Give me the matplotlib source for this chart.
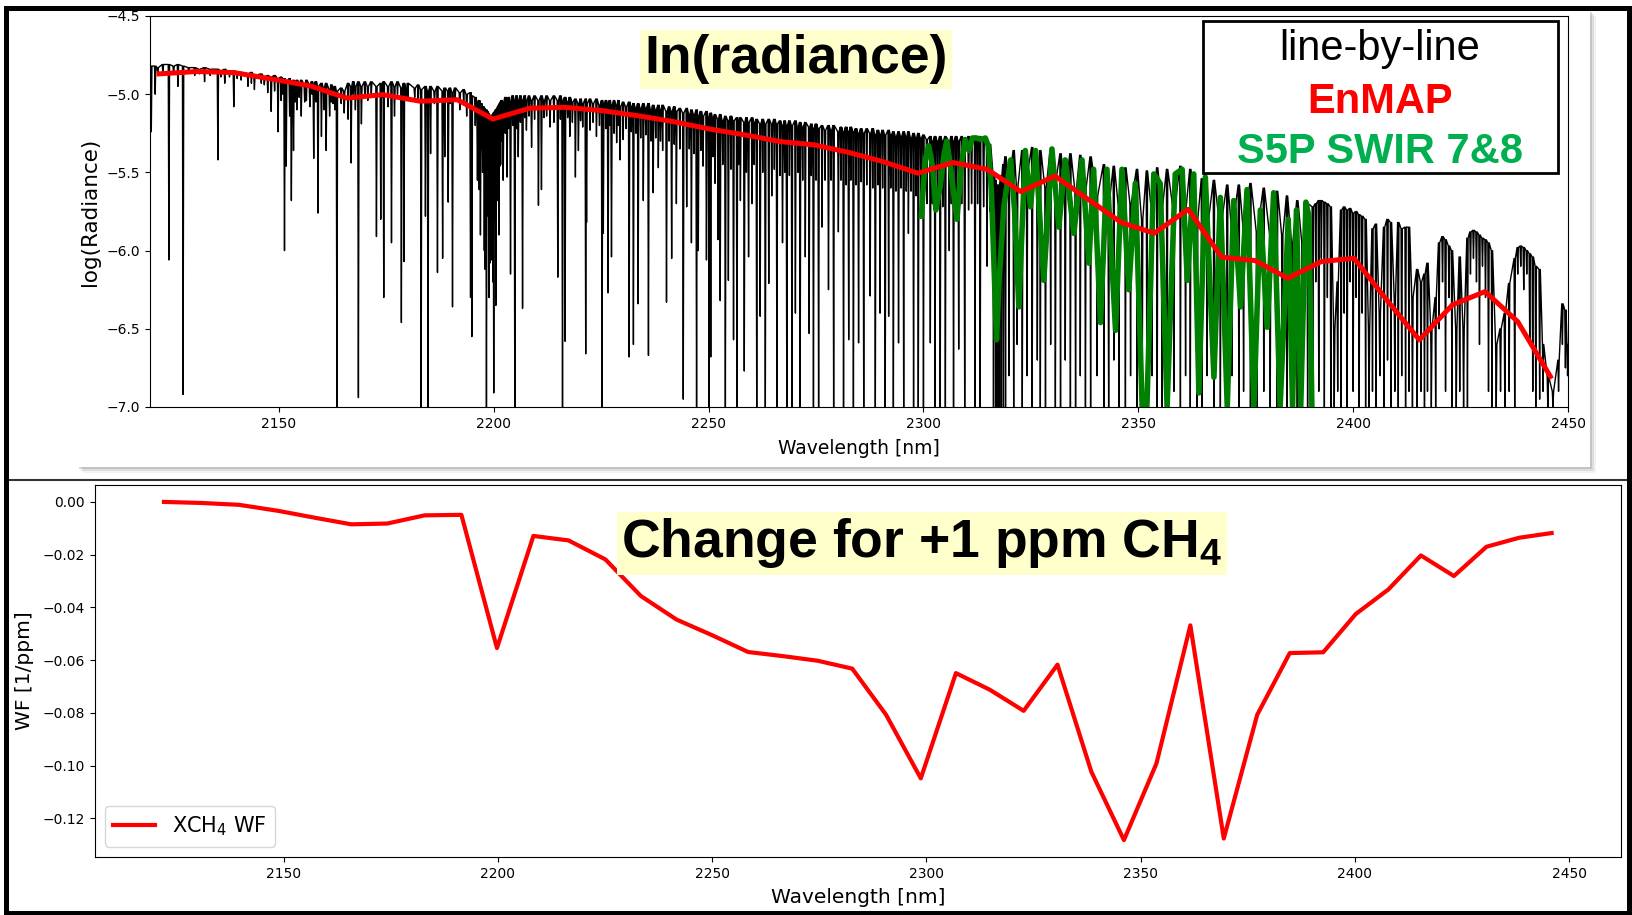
import numpy as np
import matplotlib
matplotlib.use("Agg")
import matplotlib.pyplot as plt
from matplotlib.patches import Rectangle
from matplotlib.lines import Line2D

plt.rcParams['font.family'] = ['DejaVu Sans']
plt.rcParams['mathtext.default'] = 'regular'

# EnMAP band centres [nm], used for both panels
enmap_wl = [2122.1, 2130.8, 2139.6, 2148.8, 2157.3, 2165.8, 2174.2, 2182.9, 2191.5, 2199.8,
            2208.3, 2216.5, 2225.1, 2233.4, 2241.7, 2250.1, 2258.4, 2266.7, 2274.6, 2282.7,
            2290.6, 2298.7, 2306.9, 2314.8, 2322.7, 2330.6, 2338.5, 2346.1, 2353.7, 2361.6,
            2369.4, 2377.2, 2384.8, 2392.6, 2400.2, 2407.8, 2415.4, 2423.1, 2430.7, 2438.3, 2445.9]
# ln(radiance) at EnMAP resolution
enmap_lnrad = [-4.870, -4.855, -4.862, -4.905, -4.947, -5.025, -5.003, -5.045, -5.035, -5.159,
               -5.090, -5.084, -5.105, -5.137, -5.175, -5.222, -5.260, -5.303, -5.324, -5.373,
               -5.431, -5.505, -5.437, -5.480, -5.623, -5.523, -5.676, -5.821, -5.889, -5.736,
               -6.042, -6.064, -6.177, -6.070, -6.049, -6.315, -6.571, -6.347, -6.262, -6.454, -6.805]
# XCH4 weighting function [1/ppm]
xch4_wf = [0.000, -0.0004, -0.0011, -0.0034, -0.0060, -0.0085, -0.0082, -0.0051, -0.0049, -0.0554,
           -0.0129, -0.0146, -0.0218, -0.0357, -0.0446, -0.0506, -0.0569, -0.0585, -0.0602, -0.0632,
           -0.0807, -0.1048, -0.0649, -0.0712, -0.0792, -0.0617, -0.1023, -0.1282, -0.0991, -0.0468,
           -0.1276, -0.0807, -0.0573, -0.0570, -0.0425, -0.0332, -0.0203, -0.0281, -0.0170, -0.0136, -0.0118]

# S5P SWIR band 7&8 spectrum
s5p_wl = [2299.5, 2300.4, 2301.2, 2302.1, 2302.9, 2303.9, 2304.7, 2305.4, 2306.2, 2307.0,
          2307.8, 2308.8, 2309.7, 2310.6, 2311.4, 2312.4, 2313.4, 2314.4, 2315.1, 2315.8,
          2316.3, 2317.0, 2317.6, 2318.7, 2320.3, 2321.2, 2322.2, 2323.7, 2324.9, 2326.1,
          2328.0, 2329.9, 2331.5, 2333.0, 2335.0, 2336.9, 2338.5, 2339.6, 2341.2, 2342.7,
          2344.7, 2346.2, 2347.8, 2349.3, 2350.9, 2352.0, 2353.6, 2355.1, 2356.7, 2358.6,
          2360.2, 2361.4, 2362.9, 2364.1, 2365.6, 2367.6, 2369.1, 2370.7, 2372.2, 2373.8,
          2375.3, 2376.9, 2378.4, 2380.0, 2381.5, 2383.0, 2384.9, 2385.9, 2386.8, 2387.8,
          2389.0, 2389.7, 2390.4]
s5p_lnrad = [-5.78, -5.42, -5.33, -5.46, -5.74, -5.59, -5.40, -5.30, -5.44, -5.63,
             -5.80, -5.46, -5.29, -5.36, -5.28, -5.28, -5.29, -5.28, -5.33, -5.61,
             -6.00, -6.57, -6.20, -5.72, -5.42, -5.74, -6.36, -5.36, -5.72, -5.36,
             -6.19, -5.35, -5.85, -5.42, -5.89, -5.42, -6.08, -5.48, -6.46, -5.48,
             -6.51, -5.48, -6.25, -5.57, -7.00, -7.00, -5.51, -5.57, -7.00, -5.51,
             -5.48, -6.19, -5.51, -6.91, -5.53, -6.81, -5.66, -7.00, -5.68, -6.36,
             -5.61, -7.00, -5.74, -6.49, -5.63, -7.00, -5.80, -7.00, -5.74, -7.00,
             -5.69, -5.78, -7.00]

# line-by-line spectrum: absorption lines as (centre nm, continuum, line bottom)
lbl_lines = [
    (2120.3, -4.82, -5.24), (2121.2, -4.82, -5.00), (2121.8, -4.83, -4.87), (2123.0, -4.81, -4.86),
    (2124.4, -4.81, -6.06), (2125.5, -4.82, -4.87), (2126.5, -4.81, -4.95), (2127.7, -4.82, -6.92),
    (2129.0, -4.83, -4.86), (2130.4, -4.83, -4.88), (2131.5, -4.84, -4.87), (2132.7, -4.83, -4.92),
    (2134.0, -4.84, -4.88), (2135.8, -4.84, -5.42), (2136.5, -4.85, -4.89), (2137.4, -4.84, -4.93),
    (2138.5, -4.86, -4.89), (2139.5, -4.85, -5.08), (2140.3, -4.86, -4.90), (2141.2, -4.86, -4.91),
    (2142.8, -4.87, -4.95), (2143.6, -4.86, -4.93), (2144.3, -4.88, -4.97), (2145.9, -4.87, -4.93),
    (2146.6, -4.89, -4.94), (2147.4, -4.88, -4.99), (2148.2, -4.89, -5.11), (2149.0, -4.88, -4.98),
    (2149.8, -4.90, -5.24), (2150.5, -4.89, -5.04), (2150.9, -4.91, -5.00), (2151.3, -4.90, -6.00),
    (2151.7, -4.92, -5.46), (2152.5, -4.90, -5.14), (2152.9, -4.93, -5.68), (2153.4, -4.91, -5.36),
    (2153.8, -4.93, -5.05), (2154.2, -4.91, -5.10), (2154.7, -4.93, -5.02), (2155.2, -4.91, -5.14),
    (2156.0, -4.94, -5.05), (2156.4, -4.91, -5.04), (2157.2, -4.94, -5.08), (2157.7, -4.92, -5.00),
    (2158.1, -4.95, -5.41), (2158.6, -4.92, -5.05), (2159.1, -4.95, -5.76), (2159.9, -4.93, -5.27),
    (2160.5, -4.96, -5.10), (2161.0, -4.93, -5.36), (2161.8, -4.97, -5.14), (2162.2, -4.94, -5.05),
    (2162.6, -4.97, -5.06), (2163.0, -4.95, -5.10), (2163.5, -4.98, -7.00), (2164.5, -4.96, -5.06),
    (2165.2, -4.98, -5.12), (2166.1, -4.93, -5.16), (2166.8, -4.95, -5.44), (2167.3, -4.92, -5.00),
    (2167.8, -4.95, -5.10), (2168.5, -4.92, -6.94), (2169.2, -4.95, -5.19), (2170.0, -4.92, -5.02),
    (2170.7, -4.95, -5.04), (2171.5, -4.92, -5.00), (2172.7, -4.95, -5.91), (2173.7, -4.93, -5.80),
    (2174.0, -4.95, -5.02), (2174.4, -4.92, -6.30), (2175.4, -4.95, -5.08), (2176.2, -4.92, -5.95),
    (2176.9, -4.95, -5.14), (2177.6, -4.92, -5.00), (2178.5, -4.96, -6.46), (2179.1, -4.93, -6.07),
    (2179.6, -4.96, -5.02), (2180.0, -4.93, -5.04), (2181.6, -4.96, -5.02), (2182.4, -4.94, -5.05),
    (2183.1, -4.97, -7.00), (2184.1, -4.95, -5.78), (2184.7, -4.98, -7.00), (2185.3, -4.95, -5.38),
    (2186.2, -4.98, -5.06), (2186.9, -4.95, -6.14), (2188.1, -4.98, -6.05), (2188.6, -4.96, -5.40),
    (2189.4, -4.98, -5.69), (2189.8, -4.96, -5.06), (2190.4, -4.99, -6.36), (2191.0, -4.96, -5.04),
    (2192.1, -4.99, -5.10), (2193.0, -4.97, -5.05), (2193.7, -5.00, -5.14),
    (2194.6, -4.99, -6.30), (2194.9, -5.01, -6.55), (2195.7, -5.02, -5.20), (2196.2, -5.05, -5.55),
    (2196.6, -5.04, -5.61), (2196.9, -5.07, -5.90), (2197.1, -5.06, -5.35), (2197.4, -5.08, -5.50),
    (2197.6, -5.08, -5.36), (2197.8, -5.09, -6.00), (2198.0, -5.10, -6.12), (2198.3, -5.10, -7.00),
    (2198.5, -5.11, -5.60), (2198.7, -5.12, -5.78), (2198.9, -5.13, -6.30), (2199.1, -5.14, -6.08),
    (2199.3, -5.14, -5.70), (2199.5, -5.14, -6.06), (2199.8, -5.13, -6.20), (2200.0, -5.12, -6.91),
    (2200.3, -5.11, -5.80), (2200.5, -5.10, -6.35), (2200.8, -5.09, -5.60), (2201.0, -5.08, -5.68),
    (2201.2, -5.07, -5.90), (2201.4, -5.06, -5.46), (2201.6, -5.05, -5.45), (2201.8, -5.04, -5.30),
    (2202.2, -5.05, -5.55), (2202.7, -5.02, -5.25), (2203.1, -5.05, -5.53), (2203.5, -5.02, -5.22),
    (2203.9, -5.05, -6.15), (2204.4, -5.01, -5.20), (2204.9, -5.04, -7.00), (2205.3, -5.01, -5.22),
    (2205.7, -5.04, -5.40), (2206.2, -5.01, -5.18), (2206.7, -5.04, -6.37), (2207.2, -5.01, -5.15),
    (2207.6, -5.04, -5.23), (2208.2, -5.01, -5.14), (2208.8, -5.04, -5.34), (2209.5, -5.01, -5.16),
    (2210.4, -5.04, -5.71), (2211.1, -5.01, -5.61), (2211.7, -5.04, -5.15), (2212.3, -5.01, -5.14),
    (2213.1, -5.04, -5.21), (2214.0, -5.01, -5.18), (2214.9, -5.04, -6.17), (2215.5, -5.01, -5.16),
    (2216.0, -5.04, -7.00), (2216.6, -5.02, -6.58), (2217.2, -5.05, -5.15), (2217.7, -5.02, -5.27),
    (2218.3, -5.05, -5.18), (2219.0, -5.03, -5.53), (2219.7, -5.06, -5.36), (2220.2, -5.03, -5.17),
    (2220.7, -5.06, -5.21), (2221.4, -5.03, -6.66), (2221.6, -5.06, -5.82), (2222.4, -5.03, -5.23),
    (2223.1, -5.06, -5.18), (2223.9, -5.03, -5.27), (2224.6, -5.07, -5.20), (2225.2, -5.04, -7.00),
    (2225.5, -5.07, -5.89), (2226.1, -5.04, -5.22), (2226.6, -5.07, -6.27), (2227.0, -5.04, -5.20),
    (2227.4, -5.07, -6.04), (2228.0, -5.04, -5.25), (2228.6, -5.07, -5.31), (2229.0, -5.04, -5.20),
    (2229.4, -5.08, -5.42), (2230.1, -5.05, -5.29), (2230.8, -5.08, -5.22), (2231.5, -5.05, -6.68),
    (2232.0, -5.08, -5.24), (2232.5, -5.06, -6.60), (2233.1, -5.09, -5.25), (2233.6, -5.06, -6.34),
    (2234.2, -5.09, -5.28), (2234.8, -5.06, -5.68), (2235.4, -5.09, -5.26), (2236.0, -5.06, -6.67),
    (2236.6, -5.10, -5.30), (2237.1, -5.07, -5.63), (2237.7, -5.10, -5.28), (2238.3, -5.07, -5.47),
    (2238.8, -5.10, -5.30), (2239.3, -5.07, -5.36), (2240.2, -5.11, -6.33), (2240.8, -5.08, -5.30),
    (2241.4, -5.11, -6.05), (2242.0, -5.08, -5.32), (2242.5, -5.11, -5.70), (2243.3, -5.09, -5.35),
    (2244.1, -5.12, -6.95), (2244.9, -5.09, -5.72), (2245.5, -5.13, -5.35), (2246.0, -5.10, -5.95),
    (2246.6, -5.13, -5.38), (2247.2, -5.10, -7.00), (2247.6, -5.14, -6.00), (2248.2, -5.11, -5.36),
    (2248.7, -5.14, -5.46), (2249.5, -5.11, -6.06), (2250.1, -5.15, -7.00), (2250.5, -5.12, -6.68),
    (2251.0, -5.15, -5.40), (2251.5, -5.13, -5.57), (2252.2, -5.16, -5.93), (2252.7, -5.13, -6.32),
    (2253.3, -5.17, -5.45), (2253.9, -5.14, -7.00), (2254.6, -5.17, -6.19), (2255.2, -5.14, -5.48),
    (2255.8, -5.17, -6.57), (2256.6, -5.15, -7.00), (2257.0, -5.18, -5.45), (2257.4, -5.15, -5.68),
    (2258.3, -5.18, -6.77), (2258.8, -5.15, -5.50), (2259.3, -5.18, -6.04), (2260.1, -5.15, -5.70),
    (2260.6, -5.18, -5.45), (2261.2, -5.16, -7.00), (2262.0, -5.19, -6.42), (2262.6, -5.16, -5.50),
    (2263.2, -5.19, -7.00), (2264.0, -5.16, -6.21), (2264.7, -5.19, -5.65), (2265.3, -5.16, -5.48),
    (2265.9, -5.19, -7.00), (2266.6, -5.17, -5.52), (2267.2, -5.20, -5.95), (2267.7, -5.17, -5.50),
    (2268.2, -5.20, -7.00), (2268.8, -5.17, -5.52), (2269.4, -5.20, -7.00), (2270.2, -5.17, -6.40),
    (2270.8, -5.21, -5.50), (2271.3, -5.18, -7.00), (2271.9, -5.21, -5.55), (2272.5, -5.18, -6.04),
    (2273.4, -5.21, -6.53), (2273.9, -5.19, -5.52), (2274.4, -5.22, -7.00), (2275.0, -5.19, -5.55),
    (2275.6, -5.22, -7.00), (2276.4, -5.20, -5.85), (2277.1, -5.23, -5.55), (2277.9, -5.20, -6.25),
    (2278.5, -5.23, -5.55), (2279.1, -5.20, -7.00), (2280.2, -5.24, -5.88), (2280.8, -5.21, -5.55),
    (2281.4, -5.24, -7.00), (2282.0, -5.21, -5.58), (2282.6, -5.24, -6.57), (2283.1, -5.21, -5.55),
    (2283.7, -5.24, -7.00), (2284.3, -5.22, -5.58), (2284.9, -5.25, -6.59), (2285.5, -5.22, -5.56),
    (2286.1, -5.25, -7.00), (2286.8, -5.22, -5.58), (2287.6, -5.25, -6.29), (2288.2, -5.22, -5.60),
    (2288.8, -5.26, -7.00), (2289.4, -5.23, -5.58), (2289.9, -5.26, -6.40), (2290.5, -5.23, -5.60),
    (2291.1, -5.26, -7.00), (2291.9, -5.23, -6.42), (2292.4, -5.26, -5.60), (2293.0, -5.24, -7.00),
    (2293.6, -5.27, -5.62), (2294.2, -5.24, -6.59), (2294.8, -5.27, -5.60), (2295.4, -5.24, -7.00),
    (2296.0, -5.27, -5.62), (2296.5, -5.24, -5.89), (2297.1, -5.28, -5.62), (2297.7, -5.25, -7.00),
    (2298.3, -5.28, -5.65), (2298.8, -5.25, -7.00), (2299.4, -5.28, -5.65), (2300.0, -5.26, -7.00),
    (2300.8, -5.29, -5.70), (2301.6, -5.27, -6.59), (2302.1, -5.30, -5.70), (2302.7, -5.27, -7.00),
    (2303.3, -5.30, -5.70), (2303.9, -5.27, -7.00), (2304.5, -5.30, -5.72), (2305.1, -5.27, -7.00),
    (2306.0, -5.30, -6.00), (2306.5, -5.27, -5.70), (2307.0, -5.30, -7.00), (2307.6, -5.27, -5.72),
    (2308.2, -5.30, -6.63), (2308.9, -5.27, -5.70), (2309.6, -5.30, -7.00), (2310.5, -5.27, -5.74),
    (2311.2, -5.30, -5.70), (2312.0, -5.27, -7.00), (2312.6, -5.30, -5.70), (2313.2, -5.27, -7.00),
    (2314.0, -5.30, -5.72), (2314.8, -5.30, -6.10), (2315.5, -5.32, -5.75), (2316.3, -5.50, -7.00),
    (2316.8, -5.55, -7.00), (2317.1, -5.58, -7.00), (2317.6, -5.58, -7.00), (2318.1, -5.52, -7.00),
    (2318.6, -5.45, -7.00),
    (2319.1, -5.40, -7.00), (2319.9, -5.55, -6.80), (2321.0, -5.36, -7.00), (2321.8, -5.60, -6.60),
    (2323.0, -5.36, -7.00), (2324.1, -5.50, -6.80), (2325.3, -5.34, -7.00), (2326.5, -5.55, -6.70),
    (2327.2, -5.36, -7.00), (2328.4, -5.60, -7.00), (2329.6, -5.36, -6.60), (2330.7, -5.55, -7.00),
    (2331.9, -5.38, -7.00), (2333.0, -5.60, -6.70), (2334.2, -5.38, -7.00), (2335.4, -5.62, -7.00),
    (2336.5, -5.39, -6.80), (2337.7, -5.60, -7.00), (2338.9, -5.40, -7.00), (2340.4, -5.65, -6.80),
    (2342.0, -5.45, -7.00), (2343.1, -5.70, -7.00), (2344.3, -5.46, -6.70), (2345.5, -5.72, -7.00),
    (2347.0, -5.47, -7.00), (2348.2, -5.70, -6.80), (2349.7, -5.48, -7.00), (2350.9, -5.80, -7.00),
    (2352.0, -5.49, -7.00), (2353.2, -5.75, -6.80), (2354.4, -5.47, -7.00), (2355.5, -5.72, -7.00),
    (2356.7, -5.48, -7.00), (2358.3, -5.75, -6.90), (2359.8, -5.46, -7.00), (2361.0, -5.72, -6.80),
    (2362.1, -5.48, -7.00), (2363.7, -5.80, -7.00), (2364.8, -5.54, -7.00), (2366.0, -5.85, -6.80),
    (2367.6, -5.55, -7.00), (2369.1, -5.85, -7.00), (2370.7, -5.58, -7.00), (2371.8, -5.85, -6.80),
    (2373.4, -5.58, -7.00), (2374.5, -5.85, -6.90), (2376.1, -5.57, -7.00), (2377.6, -5.88, -7.00),
    (2379.2, -5.60, -6.90), (2380.7, -5.90, -7.00), (2382.3, -5.62, -7.00), (2383.5, -5.90, -6.90),
    (2384.6, -5.65, -7.00), (2385.8, -5.95, -6.90), (2387.0, -5.68, -7.00), (2388.2, -5.95, -6.80),
    (2389.4, -5.70, -7.00),
    (2390.6, -5.72, -7.00), (2391.3, -5.70, -6.20), (2392.0, -5.68, -6.90), (2392.6, -5.68, -6.05),
    (2393.3, -5.69, -7.00), (2394.0, -5.70, -6.30), (2394.8, -5.72, -7.00), (2395.6, -6.50, -7.00),
    (2396.4, -6.20, -6.90), (2397.2, -5.74, -7.00), (2397.9, -5.72, -6.40), (2398.6, -5.74, -7.00),
    (2399.3, -5.73, -6.20), (2400.0, -5.76, -6.90), (2400.7, -5.75, -6.30), (2401.4, -5.77, -7.00),
    (2402.1, -5.78, -6.40), (2402.9, -5.80, -7.00), (2403.7, -6.50, -7.00), (2404.5, -5.86, -6.90),
    (2405.3, -5.83, -7.00), (2406.2, -6.40, -6.80), (2407.2, -5.85, -7.00), (2408.0, -5.80, -6.70),
    (2408.8, -5.82, -7.00), (2409.7, -6.30, -6.90), (2410.5, -5.82, -7.00), (2411.3, -5.86, -6.80),
    (2412.2, -5.85, -7.00), (2413.0, -5.85, -6.90), (2413.8, -6.30, -7.00), (2414.9, -6.12, -7.00),
    (2415.8, -6.20, -6.90), (2416.6, -6.15, -7.00), (2417.3, -6.08, -6.90), (2418.2, -6.50, -7.00),
    (2419.2, -6.30, -7.00), (2420.0, -5.95, -6.50), (2420.8, -5.91, -6.20), (2421.5, -5.93, -6.90),
    (2422.3, -5.97, -6.30), (2423.0, -6.00, -7.00), (2424.0, -6.50, -7.00), (2424.8, -6.04, -6.90),
    (2425.7, -6.50, -7.00), (2426.6, -5.92, -7.00), (2427.3, -5.88, -6.15), (2428.0, -5.87, -6.05),
    (2428.7, -5.88, -6.20), (2429.4, -5.90, -6.60), (2430.1, -5.92, -6.10), (2430.8, -5.93, -6.30),
    (2431.5, -5.95, -6.90), (2432.3, -6.00, -7.00), (2433.3, -6.60, -7.00), (2434.3, -6.50, -6.90),
    (2435.3, -6.40, -7.00), (2436.3, -6.21, -6.90), (2437.6, -6.05, -7.00), (2438.3, -5.98, -6.15),
    (2439.0, -5.97, -6.10), (2439.7, -5.98, -6.25), (2440.4, -6.00, -6.15), (2441.1, -6.02, -6.60),
    (2441.8, -6.04, -6.90), (2442.5, -6.10, -7.00), (2443.4, -6.12, -6.95), (2444.2, -6.60, -6.90),
    (2445.3, -6.80, -7.00), (2446.5, -6.90, -7.00), (2447.8, -6.70, -6.90), (2448.7, -6.34, -6.60),
    (2449.4, -6.38, -6.75), (2449.9, -6.60, -6.80),
]

# spike half width for drawing each line [nm]
hw = 0.15
lines = np.array(sorted(lbl_lines))
lbl_x = np.column_stack([lines[:, 0] - hw, lines[:, 0], lines[:, 0] + hw]).ravel()
lbl_y = np.column_stack([lines[:, 1], lines[:, 2], lines[:, 1]]).ravel()

W, H = 1632, 915
fig = plt.figure(figsize=(W / 100, H / 100), dpi=100)


def fx(px):
    return px / W


def fy(py):
    return 1 - py / H


# upper panel: white card with a soft shadow
for off, a in [(6, 0.10), (4, 0.18), (2, 0.28)]:
    fig.add_artist(Rectangle((fx(77 + off), fy(467 + off)), fx(1590 - 77), (467 - 10) / H,
                             transform=fig.transFigure, facecolor='gray', edgecolor='none',
                             alpha=a, zorder=-2))
fig.add_artist(Rectangle((fx(77), fy(467)), fx(1590 - 77), (467 - 10) / H,
                         transform=fig.transFigure, facecolor='white', edgecolor='none', zorder=-1))

# ---- top: ln(radiance)
ax1 = fig.add_axes([fx(150), fy(407), fx(1568 - 150), (407 - 16) / H])
ax1.plot(lbl_x, lbl_y, color='black', lw=1.0, zorder=2)
ax1.plot(s5p_wl, s5p_lnrad, color='green', lw=4.0, zorder=3)
ax1.plot(enmap_wl, enmap_lnrad, color='red', lw=3.6, zorder=4)
ax1.set_xlim(2120, 2450)
ax1.set_ylim(-7.0, -4.5)
ax1.set_xticks([2150, 2200, 2250, 2300, 2350, 2400, 2450])
ax1.set_yticks([-7.0, -6.5, -6.0, -5.5, -5.0, -4.5])
ax1.tick_params(labelsize=10)
ax1.set_xlabel('Wavelength [nm]', fontsize=13.5, labelpad=6)
ax1.set_ylabel('log(Radiance)', fontsize=15.5, labelpad=5)

# ---- bottom: weighting function
ax2 = fig.add_axes([fx(94.6), fy(857), fx(1621 - 94.6), (857 - 485) / H])
ax2.plot(enmap_wl, xch4_wf, color='red', lw=3, label='XCH$_4$ WF')
ax2.set_xticks([2150, 2200, 2250, 2300, 2350, 2400, 2450])
ax2.set_yticks([-0.12, -0.10, -0.08, -0.06, -0.04, -0.02, 0.0])
ax2.tick_params(labelsize=10)
ax2.set_xlabel('Wavelength [nm]', fontsize=14.5, labelpad=5)
ax2.set_ylabel('WF [1/ppm]', fontsize=14.5, labelpad=6)
ax2.legend(loc='lower left', fontsize=15)

# panel titles
fig.text(fx(796), fy(73.3), 'In(radiance)', ha='center', va='baseline', fontsize=38.5,
         fontweight='bold', family='Liberation Sans',
         bbox=dict(facecolor='#FFFFCC', edgecolor='none', pad=3))
fig.text(fx(922), fy(557.3), 'Change for +1 ppm CH$_4$', ha='center', va='baseline', fontsize=38.5,
         fontweight='bold', family='Liberation Sans',
         bbox=dict(facecolor='#FFFFCC', edgecolor='none', pad=3))

# hand-made legend of the upper panel
fig.add_artist(Rectangle((fx(1203), fy(172.7)), fx(1558 - 1203), (172.7 - 20.7) / H,
                         transform=fig.transFigure, facecolor='white', edgecolor='black',
                         lw=2, zorder=3))
fig.text(fx(1380), fy(60), 'line-by-line', ha='center', va='baseline', fontsize=30,
         family='Liberation Sans', zorder=4)
fig.text(fx(1380), fy(113), 'EnMAP', ha='center', va='baseline', fontsize=30,
         family='Liberation Sans', fontweight='bold', color='red', zorder=4)
fig.text(fx(1380), fy(163), 'S5P SWIR 7&8', ha='center', va='baseline', fontsize=30,
         family='Liberation Sans', fontweight='bold', color='#00B050', zorder=4)

# separator and outer frame
fig.add_artist(Line2D([fx(8), fx(1626)], [fy(480), fy(480)], transform=fig.transFigure,
                      color='#333333', lw=1.5, zorder=5))
fig.add_artist(Rectangle((fx(5.7), fy(912.5)), fx(1629 - 5.7), (912.5 - 7.5) / H,
                         transform=fig.transFigure, fill=False, edgecolor='black',
                         lw=3.6, zorder=10))

fig.savefig('out.png', dpi=100)
